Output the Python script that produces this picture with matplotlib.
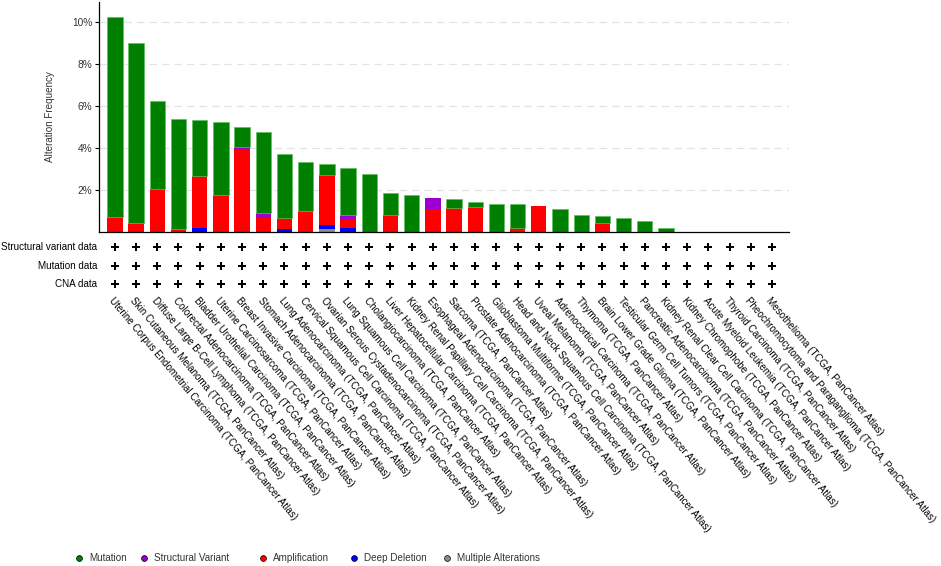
import numpy as np
import matplotlib.pyplot as plt
from matplotlib.transforms import blended_transform_factory
from matplotlib.lines import Line2D

plt.rcParams['font.family'] = ['Liberation Sans', 'DejaVu Sans']

# cancer studies (all TCGA PanCancer Atlas)
studies = [
    "Uterine Corpus Endometrial Carcinoma", "Skin Cutaneous Melanoma",
    "Diffuse Large B-Cell Lymphoma", "Colorectal Adenocarcinoma",
    "Bladder Urothelial Carcinoma", "Uterine Carcinosarcoma",
    "Breast Invasive Carcinoma", "Stomach Adenocarcinoma",
    "Lung Adenocarcinoma", "Cervical Squamous Cell Carcinoma",
    "Ovarian Serous Cystadenocarcinoma", "Lung Squamous Cell Carcinoma",
    "Cholangiocarcinoma", "Liver Hepatocellular Carcinoma",
    "Kidney Renal Papillary Cell Carcinoma", "Esophageal Adenocarcinoma",
    "Sarcoma", "Prostate Adenocarcinoma", "Glioblastoma Multiforme",
    "Head and Neck Squamous Cell Carcinoma", "Uveal Melanoma",
    "Adrenocortical Carcinoma", "Thymoma", "Brain Lower Grade Glioma",
    "Testicular Germ Cell Tumors", "Pancreatic Adenocarcinoma",
    "Kidney Renal Clear Cell Carcinoma", "Kidney Chromophobe",
    "Acute Myeloid Leukemia", "Thyroid Carcinoma",
    "Pheochromocytoma and Paraganglioma", "Mesothelioma",
]
labels = [s + " (TCGA, PanCancer Atlas)" for s in studies]

# alteration frequency in %
mutation = [9.46, 8.56, 4.18, 5.22, 2.66, 3.49, 0.91, 3.86, 3.00, 2.34, 0.52,
            2.26, 2.78, 1.07, 1.77, 0.00, 0.40, 0.20, 1.34, 1.13, 0.00, 1.09,
            0.81, 0.36, 0.67, 0.54, 0.19, 0, 0, 0, 0, 0]
struct_var = [0, 0, 0, 0, 0, 0, 0.11, 0.20, 0, 0, 0, 0.19, 0, 0, 0, 0.56,
              0, 0, 0, 0, 0, 0, 0, 0, 0, 0, 0, 0, 0, 0, 0, 0]
amplification = [0.74, 0.44, 2.07, 0.16, 2.47, 1.76, 3.96, 0.70, 0.54, 1.01,
                 2.39, 0.41, 0, 0.81, 0, 1.09, 1.17, 1.22, 0, 0.21, 1.25, 0,
                 0, 0.42, 0, 0, 0, 0, 0, 0, 0, 0]
deep_deletion = [0, 0, 0, 0, 0.22, 0, 0, 0, 0.16, 0, 0.18, 0.21, 0, 0, 0, 0,
                 0, 0, 0, 0, 0, 0, 0, 0, 0, 0, 0, 0, 0, 0, 0, 0]
multiple = [0, 0, 0, 0, 0, 0, 0, 0, 0, 0, 0.15, 0, 0, 0, 0, 0,
            0, 0, 0, 0, 0, 0, 0, 0, 0, 0, 0, 0, 0, 0, 0, 0]

row_names = ["Structural variant data", "Mutation data", "CNA data"]
legend_names = ["Mutation", "Structural Variant", "Amplification",
                "Deep Deletion", "Multiple Alterations"]
colors = {"Mutation": "#008000", "Structural Variant": "#9b00d0",
          "Amplification": "#ff0000", "Deep Deletion": "#0000ff",
          "Multiple Alterations": "#8c8c8c"}
edges = {"Mutation": "#5fbf5f"}

W, H = 941, 566
fig = plt.figure(figsize=(W / 100, H / 100), dpi=100)
ax = fig.add_axes([99 / W, 1 - 232.3 / H, (789 - 99) / W, (232.3 - 2) / H])

n = len(studies)
x = np.arange(n)
bottom = np.zeros(n)
# stacking order bottom -> top
stack = [("Multiple Alterations", multiple), ("Deep Deletion", deep_deletion),
         ("Amplification", amplification), ("Structural Variant", struct_var),
         ("Mutation", mutation)]
for name, vals in stack:
    vals = np.array(vals)
    keep = vals > 0
    ec = edges.get(name, colors[name])
    ax.bar(x[keep], vals[keep], 0.72, bottom=bottom[keep], color=colors[name],
           zorder=2, edgecolor=ec, linewidth=0.5 if name in edges else 0)
    bottom += vals

ax.set_xlim(-0.75, 31.8)
ax.set_ylim(0, 10.93)
ax.set_yticks([2, 4, 6, 8, 10])
ax.set_yticklabels(["%d%%" % v for v in [2, 4, 6, 8, 10]])
ax.tick_params(axis='y', length=3, width=0.8, pad=2, labelsize=7.3, labelcolor='#333333')
ax.set_xticks([])
ax.grid(axis='y', color='#e3e3e3', linestyle=(0, (6, 4)), linewidth=0.9, zorder=0)
for s in ['top', 'right']:
    ax.spines[s].set_visible(False)
ax.spines['left'].set_linewidth(0.9)
ax.spines['bottom'].set_linewidth(0.9)

trans = blended_transform_factory(ax.transData, fig.transFigure)
row_y = [246.7, 265.7, 284.3]
for name, yy in zip(row_names, row_y):
    fy = 1 - yy / H
    ax.plot(x, [fy] * n, 'P', ms=5.4, color='black', mew=0,
            transform=trans, clip_on=False)
    fig.text(97 / W, fy, name, ha='right', va='center', fontsize=7.1, color='black')

for i, lab in enumerate(labels):
    ax.text(i, 1 - 296 / H, lab, transform=trans, rotation=-50,
            rotation_mode='anchor', ha='left', va='top', fontsize=7.1, color='black')

fig.text(50 / W, 1 - 117 / H, "Alteration Frequency", rotation=90,
         ha='center', va='center', fontsize=7.1, color='#333333')

# legend along the bottom
leg_x = [79, 143.5, 262.5, 354, 446.6]
leg_y = 1 - 558 / H
for name, lx in zip(legend_names, leg_x):
    fig.add_artist(Line2D([lx / W], [leg_y], marker='o', ms=4.2, color=colors[name],
                          mec='black', mew=0.5, transform=fig.transFigure))
    fig.text((lx + 10) / W, leg_y, name, ha='left', va='center',
             fontsize=7.1, color='#333333')

fig.savefig('out.png', dpi=100)
